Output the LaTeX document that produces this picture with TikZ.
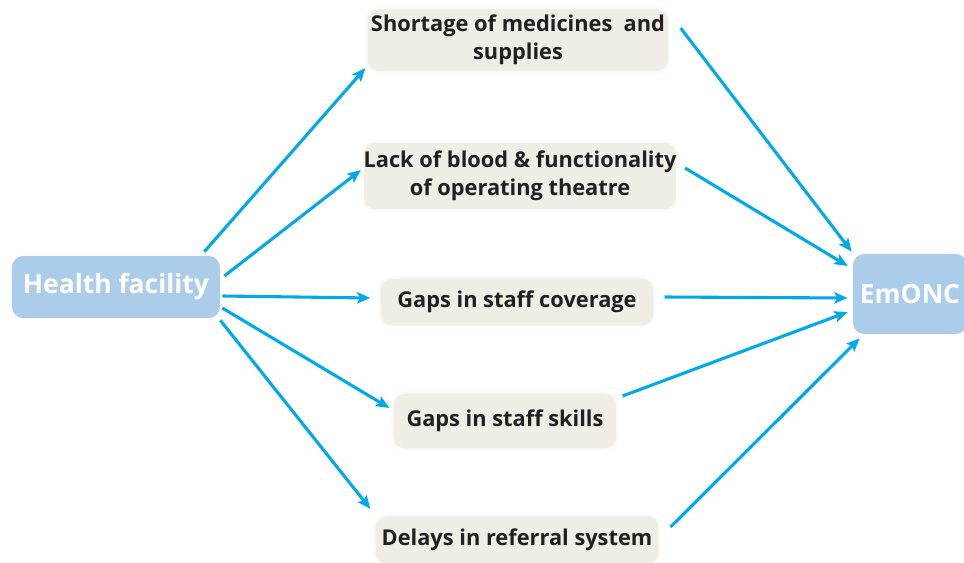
\documentclass[tikz,border=0pt]{standalone}
\usepackage{fontspec}
\setmainfont{Open Sans}
\usetikzlibrary{arrows.meta,positioning}
\definecolor{hfblue}{RGB}{172,205,234}
\definecolor{factorgrey}{RGB}{240,237,231}
\definecolor{linkcyan}{RGB}{0,170,232}
\definecolor{textdark}{RGB}{35,31,32}

\begin{document}
\begin{tikzpicture}[x=0.025cm,y=0.025cm,->,>={Stealth[length=9.5pt,width=8pt,inset=2pt]},
    endbox/.style={rectangle,
          rounded corners = 8pt,
          fill = hfblue,
          text = white,
          font = \bfseries\fontsize{18.8}{22}\selectfont,
          inner sep = 0pt},
    factor/.style={rectangle,
          rounded corners = 9pt,
          fill = factorgrey,
          draw = factorgrey!30,
          line width = 1.5pt,
          text = textdark,
          font = \bfseries\fontsize{15.5}{20}\selectfont,
          align = center,
          inner sep = 0pt},
    link/.style={draw = linkcyan, line width = 2.2pt}
    ]

    \useasboundingbox (0,0) rectangle (964,562);

    \node[endbox,
          minimum width = 5.2cm,
          minimum height = 1.55cm
          ] (hf) at (116,275) {Health facility};

    \node[endbox,
          minimum width = 2.85cm,
          minimum height = 2cm
          ] (emonc) at (910,268) {EmONC};

    \node[factor,
          minimum width = 7.575cm,
          minimum height = 1.6cm
          ] (shortage) at (518,522) {Shortage of medicines\ \ and\\supplies};

    \node[factor,
          minimum width = 7.85cm,
          minimum height = 1.725cm
          ] (blood) at (520,386) {Lack of blood \& functionality\\of operating theatre};

    \node[factor,
          minimum width = 6.875cm,
          minimum height = 1.225cm
          ] (coverage) at (517,260) {Gaps in staff coverage};

    \node[factor,
          minimum width = 5.625cm,
          minimum height = 1.425cm
          ] (skills) at (505,141) {Gaps in staff skills};

    \node[factor,
          minimum width = 7.125cm,
          minimum height = 1.25cm
          ] (referral) at (517,22) {Delays in referral system};

    \path[every edge/.style={link}]
    %from health facility
    ([shift={(-16,4)}]hf.north east) edge ([shift={(0,5)}]shortage.south west)
    ([shift={(4,11)}]hf.east) edge ([shift={(-1,6)}]blood.west)
    ([shift={(2,-9)}]hf.east) edge ([shift={(-8,4)}]coverage.west)
    ([shift={(2,-21)}]hf.east) edge ([shift={(-2,13)}]skills.west)
    ([shift={(0,-2)}]hf.south east) edge ([shift={(-3,5)}]referral.north west)
    %to EmONC
    ([shift={(10,12)}]shortage.east) edge ([shift={(-1,2)}]emonc.north west)
    ([shift={(7,8)}]blood.east) edge ([shift={(-5,28)}]emonc.west)
    ([shift={(9,5)}]coverage.east) edge ([shift={(-5,-4)}]emonc.west)
    ([shift={(4,25)}]skills.east) edge ([shift={(-5,-18)}]emonc.west)
    ([shift={(10,-13)}]referral.north east) edge ([shift={(7,-4)}]emonc.south west);

\end{tikzpicture}
\end{document}
